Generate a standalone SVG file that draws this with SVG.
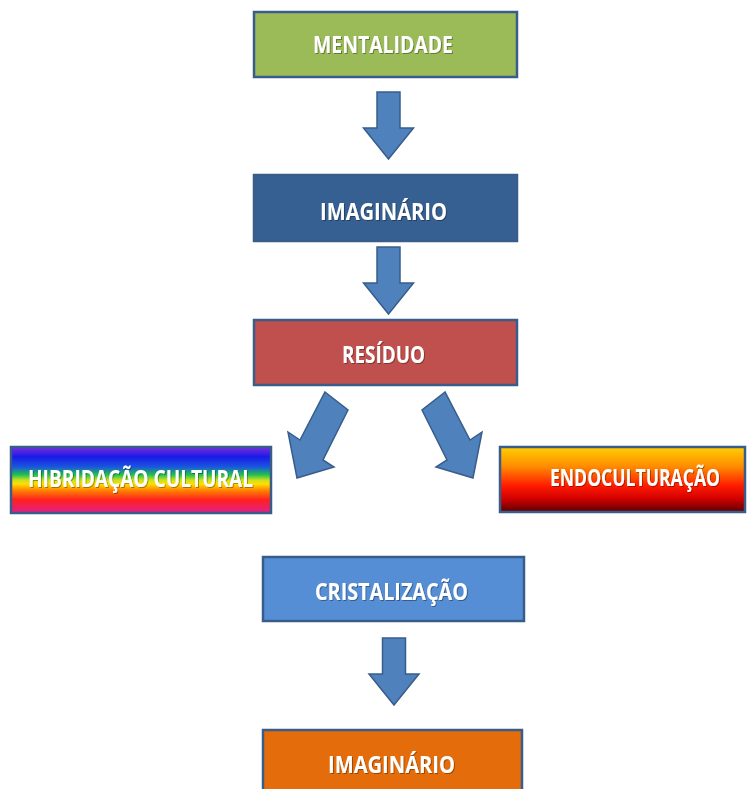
<svg xmlns="http://www.w3.org/2000/svg" xmlns:xlink="http://www.w3.org/1999/xlink" width="747" height="789" viewBox="0 0 747 789">
  <style>
    .box { stroke: #385d8a; stroke-width: 2.5; }
    .lbl { font-family: "Open Sans", "Liberation Sans", sans-serif; font-weight: bold; font-size: 24px; fill: #ffffff; text-anchor: middle; }
    .arrow { fill: #4f81bd; stroke: #385d8a; stroke-width: 1.5; stroke-linejoin: miter; }
  </style>
  <defs>
    <linearGradient id="rainbow" x1="0" y1="0" x2="0" y2="1">
      <stop offset="0" stop-color="#7a2ee0"/>
      <stop offset="0.15" stop-color="#1a1ae6"/>
      <stop offset="0.3" stop-color="#1a55e0"/>
      <stop offset="0.42" stop-color="#20c050"/>
      <stop offset="0.5" stop-color="#c8e020"/>
      <stop offset="0.56" stop-color="#ffe000"/>
      <stop offset="0.66" stop-color="#ff8000"/>
      <stop offset="0.8" stop-color="#ff2020"/>
      <stop offset="1" stop-color="#e0208a"/>
    </linearGradient>
    <linearGradient id="fire" x1="0" y1="0" x2="0" y2="1">
      <stop offset="0" stop-color="#ffd000"/>
      <stop offset="0.3" stop-color="#ff8c00"/>
      <stop offset="0.6" stop-color="#ff1a00"/>
      <stop offset="0.8" stop-color="#d00000"/>
      <stop offset="1" stop-color="#5a0000"/>
    </linearGradient>
    <filter id="ts" x="-10%" y="-30%" width="120%" height="160%">
      <feDropShadow dx="1" dy="1" stdDeviation="0.6" flood-color="#000000" flood-opacity="0.35"/>
    </filter>
    <path id="downArrow" d="M-11.5,0 L11.5,0 L11.5,36 L25,36 L0,67 L-25,36 L-11.5,36 Z"/>
  </defs>
  <rect width="747" height="789" fill="#ffffff"/>

  <g id="connectors">
    <use xlink:href="#downArrow" class="arrow" transform="translate(388.5,92)"/>
    <use xlink:href="#downArrow" class="arrow" transform="translate(388.5,247)"/>
    <polygon class="arrow" points="325,392 348,410 323,460 334,467 297,478 288,432 300,440"/>
    <polygon class="arrow" points="445,392 422,410 447,460 436,467 473,478 482,432 470,440"/>
    <use xlink:href="#downArrow" class="arrow" transform="translate(394,638)"/>
  </g>

  <g id="mentalidade">
    <rect class="box" x="254" y="12" width="263" height="65" fill="#9bbb59"/>
    <text class="lbl" x="383" y="53" textLength="140" lengthAdjust="spacingAndGlyphs" filter="url(#ts)">MENTALIDADE</text>
  </g>
  <g id="imaginario1">
    <rect class="box" x="254" y="175" width="263" height="66" fill="#376092"/>
    <text class="lbl" x="383.5" y="220" textLength="127" lengthAdjust="spacingAndGlyphs" filter="url(#ts)">IMAGINÁRIO</text>
  </g>
  <g id="residuo">
    <rect class="box" x="254" y="320" width="263" height="65" fill="#c0504d"/>
    <text class="lbl" x="383.5" y="363" textLength="83" lengthAdjust="spacingAndGlyphs" filter="url(#ts)">RESÍDUO</text>
  </g>
  <g id="hibridacao">
    <rect class="box" x="11" y="447" width="260" height="66" fill="url(#rainbow)"/>
    <text class="lbl" x="140.5" y="487" textLength="225" lengthAdjust="spacingAndGlyphs" filter="url(#ts)">HIBRIDAÇÃO CULTURAL</text>
  </g>
  <g id="endoculturacao">
    <rect class="box" x="500" y="447" width="245" height="65" fill="url(#fire)"/>
    <text class="lbl" x="635" y="486" textLength="170" lengthAdjust="spacingAndGlyphs" filter="url(#ts)">ENDOCULTURAÇÃO</text>
  </g>
  <g id="cristalizacao">
    <rect class="box" x="263" y="557" width="261" height="64" fill="#558ed5"/>
    <text class="lbl" x="391.5" y="600" textLength="153" lengthAdjust="spacingAndGlyphs" filter="url(#ts)">CRISTALIZAÇÃO</text>
  </g>
  <g id="imaginario2">
    <rect class="box" x="263" y="730" width="259" height="64" fill="#e46c0a"/>
    <text class="lbl" x="391.5" y="773" textLength="127" lengthAdjust="spacingAndGlyphs" filter="url(#ts)">IMAGINÁRIO</text>
  </g>
</svg>
